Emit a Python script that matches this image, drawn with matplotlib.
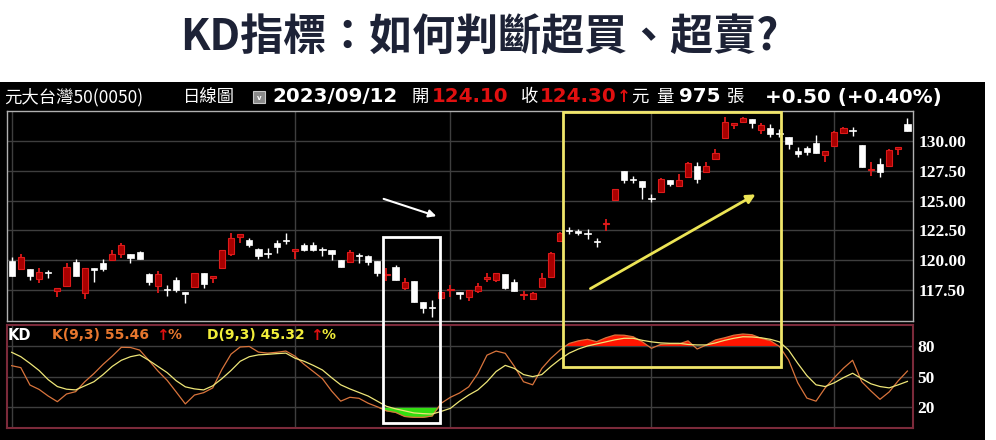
import matplotlib
matplotlib.use('Agg')
import matplotlib.pyplot as plt
import numpy as np
from matplotlib.patches import Rectangle, FancyArrowPatch

# ---------------- data ----------------
title = "KD指標：如何判斷超買、超賣?"
stock_name = "元大台灣50(0050)"
period_label = "日線圖"
date_label = "2023/09/12"
open_label, open_value = "開", "124.10"
close_label, close_value = "收", "124.30"
unit_label = "元"
vol_label, vol_value, vol_unit = "量", "975", "張"
change_label = "+0.50 (+0.40%)"

price_ticks = [117.5, 120.0, 122.5, 125.0, 127.5, 130.0]
kd_ticks = [20, 50, 80]
month_starts = [0, 31, 48, 70, 90]

opens = [119.93, 119.24, 119.24, 118.40, 118.98, 117.42, 117.86, 119.88, 117.22, 119.32,
         119.79, 120.02, 120.49, 120.49, 120.71, 118.82, 117.86, 117.52, 118.34, 117.30,
         117.73, 118.96, 118.48, 119.32, 120.49, 121.97, 121.69, 120.94, 120.60, 121.42,
         121.66, 120.80, 121.28, 121.28, 120.88, 120.86, 120.02, 119.82, 120.37, 120.35,
         119.96, 118.72, 119.40, 117.70, 118.26, 116.52, 116.06, 116.80, 117.52, 117.30,
         116.89, 117.42, 118.46, 118.34, 118.82, 118.20, 117.06, 116.75, 117.78, 118.56,
         121.64, 122.47, 122.36, 122.30, 121.57, 123.00, 125.05, 127.48, 126.75, 126.67,
         125.21, 125.75, 126.73, 126.25, 126.95, 127.90, 127.43, 128.49, 130.22, 131.34,
         131.57, 131.82, 130.92, 131.12, 130.66, 130.36, 129.19, 129.39, 129.80, 128.83,
         129.58, 130.64, 130.86, 129.66, 127.60, 128.04, 127.93, 129.30, 131.40]
closes = [118.70, 120.24, 118.67, 119.04, 118.95, 117.64, 119.40, 118.70, 119.32, 119.18,
          119.26, 120.52, 121.28, 120.21, 120.10, 118.15, 118.84, 117.48, 117.47, 117.16,
          118.96, 118.00, 118.67, 120.86, 121.84, 122.20, 121.28, 120.35, 120.55, 121.14,
          121.60, 120.91, 120.86, 120.86, 120.84, 120.49, 119.40, 120.66, 120.33, 119.88,
          118.96, 118.80, 118.34, 118.20, 116.52, 115.96, 116.02, 117.36, 117.60, 117.16,
          117.50, 117.86, 118.50, 118.90, 117.70, 117.44, 117.10, 117.22, 118.54, 120.58,
          122.31, 122.43, 122.32, 122.18, 121.53, 123.08, 125.95, 126.73, 126.71, 126.12,
          125.17, 126.81, 126.39, 126.73, 128.13, 126.79, 127.90, 129.02, 131.62, 131.53,
          131.95, 131.53, 131.34, 130.56, 130.62, 129.72, 128.91, 129.05, 128.97, 129.19,
          130.73, 131.07, 130.82, 127.84, 127.64, 127.43, 129.25, 129.47, 130.87]
highs = [120.24, 120.49, 119.24, 119.32, 119.18, 117.64, 119.74, 120.07, 119.32, 119.32,
         120.07, 120.86, 121.42, 120.49, 120.75, 118.96, 119.09, 117.92, 118.62, 117.36,
         118.96, 118.96, 118.67, 120.86, 122.26, 122.20, 121.83, 121.00, 121.00, 121.69,
         122.31, 120.91, 121.42, 121.50, 121.14, 120.86, 120.02, 120.86, 120.58, 120.40,
         119.96, 119.32, 119.60, 118.48, 118.26, 116.52, 116.66, 117.36, 117.92, 117.30,
         117.50, 118.06, 118.90, 118.95, 118.82, 118.40, 117.44, 117.30, 118.96, 120.72,
         122.40, 122.81, 122.60, 122.59, 121.84, 123.43, 126.00, 127.50, 127.06, 126.67,
         125.55, 126.90, 126.73, 127.23, 128.20, 128.27, 128.21, 129.30, 132.04, 131.53,
         132.05, 131.82, 131.53, 131.40, 131.00, 130.36, 129.52, 129.60, 130.50, 129.19,
         130.84, 131.15, 131.20, 129.66, 128.27, 128.55, 129.30, 129.47, 131.91]
lows = [118.70, 119.18, 118.34, 118.06, 118.48, 116.94, 117.86, 118.70, 116.75, 118.20,
        119.12, 120.02, 120.16, 119.74, 120.10, 117.92, 117.27, 117.00, 117.36, 116.38,
        117.73, 117.70, 118.06, 119.32, 120.38, 121.47, 121.14, 120.10, 120.16, 120.63,
        121.36, 120.07, 120.80, 120.78, 120.35, 120.02, 119.40, 119.82, 119.74, 119.60,
        118.70, 118.28, 118.34, 117.50, 116.52, 115.54, 115.27, 116.70, 116.94, 116.75,
        116.58, 117.27, 118.20, 118.15, 117.55, 117.44, 116.66, 116.66, 117.78, 118.56,
        121.50, 122.17, 122.10, 121.75, 121.14, 122.48, 125.00, 126.50, 126.45, 125.11,
        124.91, 125.70, 126.22, 126.12, 126.90, 126.50, 127.34, 128.45, 130.22, 130.98,
        131.50, 131.07, 130.56, 130.36, 130.30, 129.33, 128.68, 128.80, 128.97, 128.27,
        129.58, 130.56, 130.42, 127.84, 127.06, 126.95, 127.93, 128.83, 130.87]

k_values = [60.7, 58.8, 41.8, 37.5, 31.0, 25.5, 33.0, 35.3, 45.0, 53.0,
            62.0, 70.0, 78.7, 78.5, 76.0, 66.0, 55.5, 46.5, 35.0, 23.3,
            32.0, 34.3, 39.0, 57.0, 72.0, 79.0, 79.5, 74.0, 73.0, 73.8,
            75.0, 70.0, 62.0, 55.0, 48.0, 36.0, 26.0, 29.8, 28.8, 24.0,
            20.5, 16.5, 15.0, 11.0, 10.2, 10.2, 11.5, 24.0, 29.8, 34.0,
            40.0, 53.0, 71.0, 75.0, 72.8, 60.0, 45.0, 42.0, 58.0, 68.0,
            76.0, 82.5, 85.0, 86.5, 84.2, 88.0, 90.7, 90.5, 89.0, 84.0,
            77.7, 81.5, 82.0, 82.0, 85.0, 77.0, 81.0, 85.9, 88.0, 90.5,
            91.7, 91.0, 87.5, 85.2, 79.5, 66.3, 44.0, 29.0, 26.0, 39.0,
            49.0, 58.2, 66.0, 45.0, 36.0, 27.8, 35.0, 46.0, 55.46]
d_values = [73.8, 69.5, 63.0, 56.0, 47.0, 40.3, 37.7, 37.0, 41.0, 45.0,
            52.0, 60.0, 66.0, 69.5, 71.3, 66.0, 60.0, 54.0, 46.0, 40.0,
            38.0, 37.0, 41.0, 48.0, 56.0, 65.0, 69.5, 71.3, 71.8, 72.5,
            73.0, 68.0, 65.0, 61.0, 56.5, 49.0, 42.0, 38.0, 34.5, 31.0,
            26.0, 21.0, 18.5, 16.5, 14.5, 13.8, 13.4, 16.0, 19.0, 26.0,
            32.0, 37.0, 45.0, 55.0, 61.0, 58.0, 52.0, 50.0, 52.0, 60.0,
            67.0, 73.0, 77.0, 80.0, 82.0, 84.0, 86.0, 87.5, 87.5, 85.5,
            84.0, 83.0, 82.6, 82.6, 81.5, 81.0, 81.0, 83.0, 85.5, 87.5,
            89.0, 88.8, 88.0, 86.5, 84.0, 76.0, 63.0, 51.0, 42.0, 40.3,
            44.0, 49.0, 53.3, 48.0, 43.0, 40.3, 39.0, 42.0, 45.32]

# ---------------- layout helpers ----------------
W, H = 996, 440
def fx(px):
    return px / W
def fy(py):
    return 1 - py / H

CJK = ['Noto Sans CJK TC', 'DejaVu Sans']
RED = '#e01010'
GRID = '#3e3e3e'

fig = plt.figure(figsize=(W / 100, H / 100), dpi=100)
fig.patch.set_facecolor('white')
fig.add_artist(Rectangle((0, 0), fx(985), fy(82), transform=fig.transFigure,
                         facecolor='black', edgecolor='none', zorder=0))

fig.text(fx(479), fy(38), title, ha='center', va='center', fontsize=31,
         fontweight='bold', color='#1d2236', family=CJK)

# ---------------- header bar ----------------
hy = fy(97)
def htext(px, s, color='white', weight='normal', size=12.5, family=CJK):
    fig.text(fx(px), hy, s, ha='left', va='center', color=color,
             fontweight=weight, fontsize=size, family=family)

NUM = ['DejaVu Sans']
htext(4, stock_name)
htext(183, period_label)
fig.add_artist(Rectangle((fx(253), fy(103)), fx(12), 12 / H, transform=fig.transFigure,
                         facecolor='#8a8a8a', edgecolor='#c8c8c8', lw=0.8, zorder=3))
fig.text(fx(259), fy(97.5), 'v', ha='center', va='center', color='white', fontsize=5,
         fontweight='bold', zorder=4)
htext(272, date_label, weight='bold', size=14.3, family=NUM)
htext(411, open_label)
htext(432, open_value, color=RED, weight='bold', size=14.3, family=NUM)
htext(521, close_label)
htext(540, close_value, color=RED, weight='bold', size=14.3, family=NUM)
htext(617, '↑', color=RED, weight='bold', size=12, family=NUM)
htext(631, unit_label)
htext(656, vol_label)
htext(679, vol_value, weight='bold', size=14.3, family=NUM)
htext(727, vol_unit)
htext(765, change_label, weight='bold', size=14.3, family=NUM)

# ---------------- price panel ----------------
x = np.arange(len(opens))
o = np.array(opens); c = np.array(closes); h = np.array(highs); l = np.array(lows)
K = np.array(k_values); D = np.array(d_values)

ax = fig.add_axes([fx(7), fy(321), 906 / W, 210 / H])
ax.set_facecolor('black')
ax.set_xlim(-0.51, 98.61)
ax.set_ylim(114.9, 132.52)
for v in price_ticks:
    ax.axhline(v, color=GRID, lw=1, zorder=1)
for m in month_starts:
    ax.axvline(m, color=GRID, lw=1, zorder=1)

up = c >= o
body_lo = np.minimum(o, c)
body_h = np.maximum(np.abs(c - o), 0.09)
red_face, red_edge = '#a80000', '#dd1a1a'
ax.vlines(x[up], l[up], h[up], color=red_edge, lw=1.3, zorder=2)
ax.vlines(x[~up], l[~up], h[~up], color='white', lw=1.0, zorder=2)
ax.bar(x[up], body_h[up], bottom=body_lo[up], width=0.68, color=red_face,
       edgecolor=red_edge, lw=0.8, zorder=3)
ax.bar(x[~up], body_h[~up], bottom=body_lo[~up], width=0.68, color='white',
       edgecolor='white', lw=0.5, zorder=3)

ax.set_xticks([])
ax.yaxis.tick_right()
ax.set_yticks(price_ticks)
ax.set_yticklabels([f'{v:.2f}' for v in price_ticks])
ax.tick_params(axis='y', length=0, pad=4, labelsize=12.5, labelcolor='white')
for lbl in ax.get_yticklabels():
    lbl.set_fontfamily('Liberation Serif')
    lbl.set_fontweight('bold')
for s in ax.spines.values():
    s.set_color('#b0b0b0'); s.set_linewidth(1)

# ---------------- KD panel ----------------
ax2 = fig.add_axes([fx(7), fy(428), 906 / W, 103 / H])
ax2.set_facecolor('black')
ax2.set_xlim(-0.51, 98.61)
ax2.set_ylim(-0.25, 100.5)
for v in kd_ticks:
    ax2.axhline(v, color=GRID, lw=1, zorder=1)
for m in month_starts:
    ax2.axvline(m, color=GRID, lw=1, zorder=1)
ax2.fill_between(x, K, 80, where=K > 80, interpolate=True, color='#ff1500', lw=0, zorder=2)
ax2.fill_between(x, K, 20, where=K < 20, interpolate=True, color='#33dd11', lw=0, zorder=2)
ax2.plot(x, K, color='#d9743c', lw=0.9, zorder=3)
ax2.plot(x, D, color='#eee678', lw=0.9, zorder=3)

ax2.set_xticks([])
ax2.yaxis.tick_right()
ax2.set_yticks(kd_ticks)
ax2.set_yticklabels([str(v) for v in kd_ticks])
ax2.tick_params(axis='y', length=0, pad=3, labelsize=12.5, labelcolor='white')
for lbl in ax2.get_yticklabels():
    lbl.set_fontfamily('Liberation Serif')
    lbl.set_fontweight('bold')
for s in ax2.spines.values():
    s.set_color('#7b2a3a'); s.set_linewidth(1.5)

ky = fy(335)
def ktext(px, s, color, size=10):
    fig.text(fx(px), ky, s, ha='left', va='center', color=color, fontsize=size,
             fontweight='bold', family=['DejaVu Sans'])
ORANGE, YELLOW = '#e8772e', '#f2ee3a'
ktext(8, 'KD', 'white', 10.5)
ktext(52, f'K(9,3) {K[-1]:.2f}', ORANGE)
ktext(156, '↑', RED, 11)
ktext(167, '%', ORANGE)
ktext(207, f'D(9,3) {D[-1]:.2f}', YELLOW)
ktext(310, '↑', RED, 11)
ktext(321, '%', YELLOW)

# ---------------- annotations ----------------
fig.add_artist(Rectangle((fx(382.5), fy(423)), (440 - 382.5) / W, (423 - 237) / H,
                         transform=fig.transFigure, fill=False, edgecolor='white', lw=2, zorder=10))
fig.add_artist(Rectangle((fx(563), fy(367)), (781 - 563) / W, (367 - 112) / H,
                         transform=fig.transFigure, fill=False, edgecolor='#f0e66a', lw=2, zorder=10))
fig.add_artist(FancyArrowPatch((fx(381), fy(198)), (fx(439), fy(217)), transform=fig.transFigure,
                               arrowstyle='-|>', mutation_scale=11, color='white', lw=1.5, zorder=10))
fig.add_artist(FancyArrowPatch((fx(588), fy(290)), (fx(758), fy(193)), transform=fig.transFigure,
                               arrowstyle='-|>', mutation_scale=13, color='#ece455', lw=2, zorder=10))

fig.savefig('out.png', dpi=100, facecolor=fig.get_facecolor())
